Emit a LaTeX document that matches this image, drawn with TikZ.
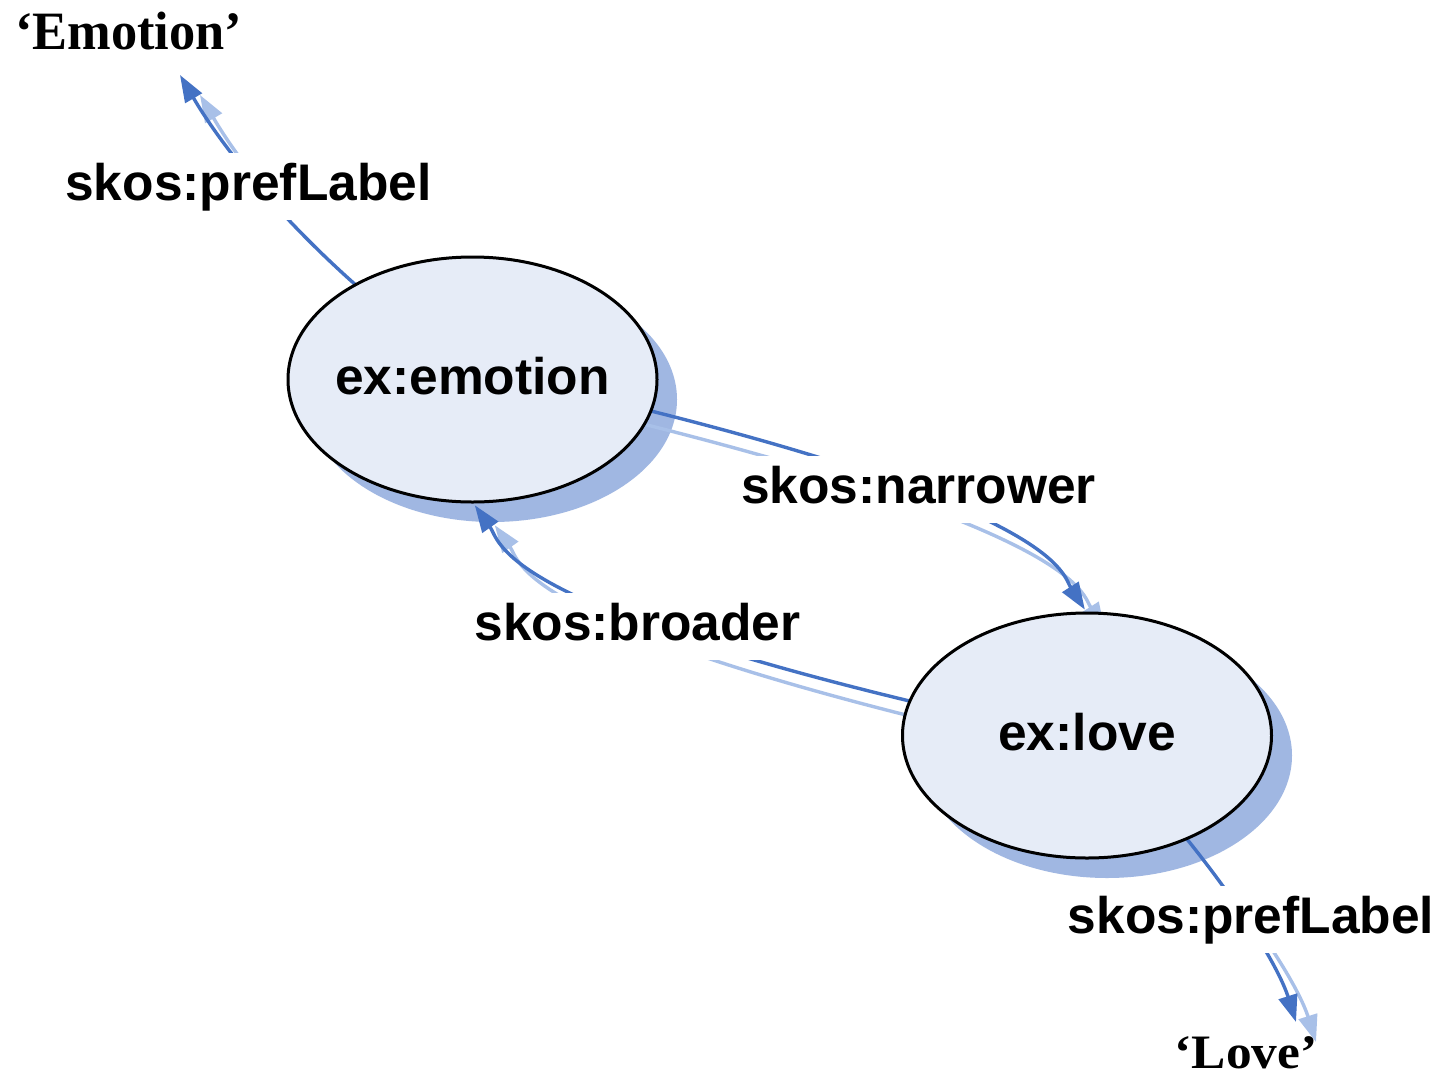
\documentclass[tikz,border=0pt]{standalone}
\usepackage{fontspec}
\setmainfont{Liberation Serif}
\newfontfamily\labelsans{Liberation Sans}
\usetikzlibrary{arrows.meta,shapes.geometric,calc}

\definecolor{linkblue}{RGB}{68,114,196}
\definecolor{linkshade}{RGB}{168,192,232}
\definecolor{nodefill}{RGB}{230,236,247}
\definecolor{nodeshade}{RGB}{160,183,226}

\pgfdeclarelayer{canvas}
\pgfdeclarelayer{nodeshadows}
\pgfdeclarelayer{linkshadows}
\pgfdeclarelayer{links}
\pgfsetlayers{canvas,nodeshadows,linkshadows,links,main}

\tikzset{
  concept/.style={ellipse, draw=black, line width=3pt, fill=nodefill,
    minimum width=369pt, minimum height=245pt, inner sep=0pt, outer sep=0pt,
    text height=29pt, text depth=0pt,
    font=\labelsans\bfseries\fontsize{51.5}{60}\selectfont},
  relation/.style={fill=white, inner xsep=6pt, inner ysep=8pt,
    text height=39pt, text depth=12pt, anchor=base,
    font=\labelsans\bfseries\fontsize{51.5}{60}\selectfont},
  literal/.style={inner sep=0pt, anchor=base,
    font=\bfseries\fontsize{54}{60}\selectfont},
  link/.style={draw=linkblue, line width=3.4pt,
    -{Triangle[length=27pt,width=19pt]}},
  linkshadow/.style={draw=linkshade, line width=3.4pt,
    -{Triangle[length=27pt,width=19pt]}, shorten <=-30pt},
}

\begin{document}
\begin{tikzpicture}[x=1pt,y=-1pt]
\useasboundingbox (0,0) rectangle (1441,1085);
\begin{pgfonlayer}{canvas}
  \fill[white] (0,0) rectangle (1441,1085);
\end{pgfonlayer}

% concepts
\node[concept] (emotion) at (472.5,379.5) {\makebox[0pt]{ex:emotion}};
\node[concept] (love) at (1087,735.5) {\makebox[0pt]{ex:love}};

% literal values
\node[literal] (litE) at (128.5,49) {\scalebox{0.97}[1]{‘Emotion’}};
\node[literal, font=\bfseries\fontsize{48}{56}\selectfont] (litL) at (1246,1068)
  {\scalebox{1.07}[1]{‘Love’}};
\coordinate (tipE) at ($(litE.base)+(51.5,26)$);
\coordinate (tipL) at ($(litL.base)+(50,-46)$);

% property labels
\node[relation] (relE) at (248.5,200) {skos:prefLabel};
\node[relation] (relN) at (918.5,503) {skos:narrower};
\node[relation] (relB) at (637.5,640) {skos:broader};
\node[relation] (relL) at (1251,933) {skos:prefLabel};

% drop shadows of the concepts
\begin{pgfonlayer}{nodeshadows}
  \fill[nodeshade] ([xshift=20pt,yshift=-20pt]emotion.center)
    ellipse [x radius=184.5pt, y radius=122.5pt];
  \fill[nodeshade] ([xshift=20pt,yshift=-20pt]love.center)
    ellipse [x radius=185pt, y radius=122.5pt];
\end{pgfonlayer}

% shadows of the links
\begin{pgfonlayer}{linkshadows}
  \begin{scope}
    \clip (0,0) rectangle (1441,190);
    \begin{scope}[transform canvas={shift={(20pt,-20pt)}}]
      \draw[linkshadow] (emotion.141) .. controls (282.3,219.7) and (224,150) .. (tipE);
    \end{scope}
  \end{scope}
  \begin{scope}[transform canvas={shift={(20pt,-20pt)}}]
    \draw[linkshadow, shorten >=4pt] (emotion.-10.7) .. controls (1061,514) and (1062.5,574.5) .. (love.north);
    \draw[linkshadow, shorten >=4pt] (love.169) .. controls (495,601) and (500,541) .. (emotion.south);
  \end{scope}
  \begin{scope}
    \clip (0,910) rectangle (1441,1085);
    \begin{scope}[transform canvas={shift={(20pt,-20pt)}}]
      \draw[linkshadow] (love.-46) .. controls (1242.7,908.3) and (1279.3,969) .. (tipL);
    \end{scope}
  \end{scope}
\end{pgfonlayer}

% links
\begin{pgfonlayer}{links}
  \draw[link] (emotion.141) .. controls (282.3,219.7) and (224,150) .. (tipE);
  \draw[link, shorten >=4pt] (emotion.-10.7) .. controls (1061,514) and (1062.5,574.5) .. (love.north);
  \draw[link, shorten >=4pt] (love.169) .. controls (495,601) and (500,541) .. (emotion.south);
  \draw[link] (love.-46) .. controls (1242.7,908.3) and (1279.3,969) .. (tipL);
\end{pgfonlayer}
\end{tikzpicture}
\end{document}
